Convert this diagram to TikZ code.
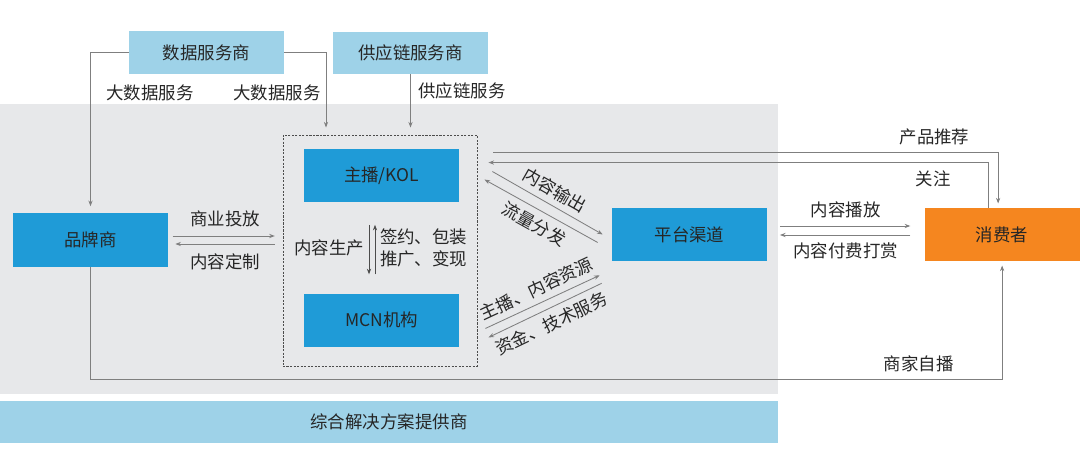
\documentclass[tikz,border=0pt]{standalone}
\usepackage{fontspec}
\setmainfont{Noto Sans CJK SC}
\usetikzlibrary{arrows.meta,positioning}
\definecolor{paleblue}{HTML}{9ED2E8}
\definecolor{midblue}{HTML}{1F9BD7}
\definecolor{consorange}{HTML}{F5861F}
\definecolor{bggray}{HTML}{E7E8EA}
\definecolor{linegray}{HTML}{7F7F7F}
\definecolor{txt}{HTML}{262626}

\begin{document}
\begin{tikzpicture}[x=0.025cm, y=-0.025cm, >={Stealth[length=4pt,width=3pt]},
 every node/.style={align=center, text=txt, font=\fontsize{12.4}{15.6}\selectfont},
 box/.style={minimum width=3.875cm, minimum height=1.325cm, inner sep=0pt, fill=midblue},
 topbox/.style={minimum width=3.875cm, minimum height=1.05cm, inner sep=0pt, fill=paleblue},
 flow/.style={draw=linegray, line width=0.6pt, ->}]
\useasboundingbox (0,0) rectangle (1080,473);
\fill[bggray] (0,104) rectangle (778,394);
\node[topbox] (data) at (206.5,52.5) {数据服务商};
\node[topbox] (supply) at (410.5,53) {供应链服务商};
\node[box] (brand) at (90.5,240) {品牌商};
\node[box] (kol) at (381.5,175.5) {主播/KOL};
\node[box, below=2.275cm of kol] (mcn) {MCN机构};
\node[box] (platform) at (689.5,234.5) {平台渠道};
\node[box, fill=consorange, right=3.925cm of platform] (consumer) {消费者};
\node[draw=black!70, dashed, dash pattern=on 1.5pt off 1pt, line width=0.6pt,
 minimum width=4.85cm, minimum height=5.775cm] (core) at (380,250.5) {};
\node[fill=paleblue, minimum width=19.45cm, minimum height=1.05cm] (solution) at (389,422) {综合解决方案提供商};

\draw[flow, shorten >=5pt] (data.west) -| (brand.north);
\draw[flow, shorten >=5pt] (data.east) -| ([shift={(-54,0)}]core.north);
\draw[flow, shorten >=5pt] (supply.south) -- (supply.south |- core.north);
\node at (150,93) {大数据服务};
\node at (277,93) {大数据服务};
\node at (462,91) {供应链服务};

\draw[flow, shorten <=3pt, shorten >=5.5pt] ([shift={(0,-4)}]brand.east) -- ([shift={(0,-14.5)}]core.west)
 node[midway, above=3pt] {商业投放};
\draw[flow, shorten <=5.5pt, shorten >=5pt] ([shift={(0,-6.5)}]core.west) -- ([shift={(0,4)}]brand.east)
 node[midway, below=3pt] {内容定制};

\draw[flow, draw=black!70, shorten <=16pt, shorten >=13.5pt] ([shift={(-12.5,0)}]kol.south) -- ([shift={(-12.5,0)}]mcn.north)
 node[midway, left] {内容生产};
\draw[flow, draw=black!70, shorten <=13.5pt, shorten >=16pt] ([shift={(-6.5,0)}]mcn.north) -- ([shift={(-6.5,0)}]kol.south)
 node[midway, right, align=left] {签约、包装\\推广、变现};

\draw[flow, shorten <=9pt, shorten >=10pt] ([shift={(0,-8.5)}]platform.east) -- ([shift={(0,-8.5)}]consumer.west)
 node[midway, above=2pt] {内容播放};
\draw[flow, shorten <=10pt, shorten >=9pt] ([shift={(0,0.5)}]consumer.west) -- ([shift={(0,0.5)}]platform.east)
 node[midway, below=2pt] {内容付费打赏};

\draw[flow, shorten >=3pt] ([shift={(16,18)}]core.north east) -| ([shift={(-4,0)}]consumer.north)
 node[pos=0.437, above=2pt] {产品推荐};
\draw[flow] ([shift={(-14,0)}]consumer.north) |- ([shift={(11,28)}]core.north east)
 node[pos=0.555, below=2pt] {关注};
\draw[flow, shorten >=3pt] (brand.south) |- ([shift={(0,13)}]core.south) -| (consumer.south)
 node[pos=0.433, above=2pt] {商家自播};

\draw[flow] ([shift={(15,37)}]core.north east) -- ([shift={(-9,0)}]platform.west)
 node[midway, sloped, above=1pt] {内容输出};
\draw[flow] ([shift={(-14,8)}]platform.west) -- ([shift={(7,45)}]core.north east)
 node[midway, sloped, below=1pt] {流量分发};
\draw[flow] ([shift={(8,-38)}]core.south east) -- ([shift={(-12,14)}]platform.south west)
 node[midway, sloped, above=1pt] {主播、内容资源};
\draw[flow] ([shift={(-10,22)}]platform.south west) -- ([shift={(11,-29)}]core.south east)
 node[midway, sloped, below=1pt] {资金、技术服务};
\end{tikzpicture}
\end{document}
